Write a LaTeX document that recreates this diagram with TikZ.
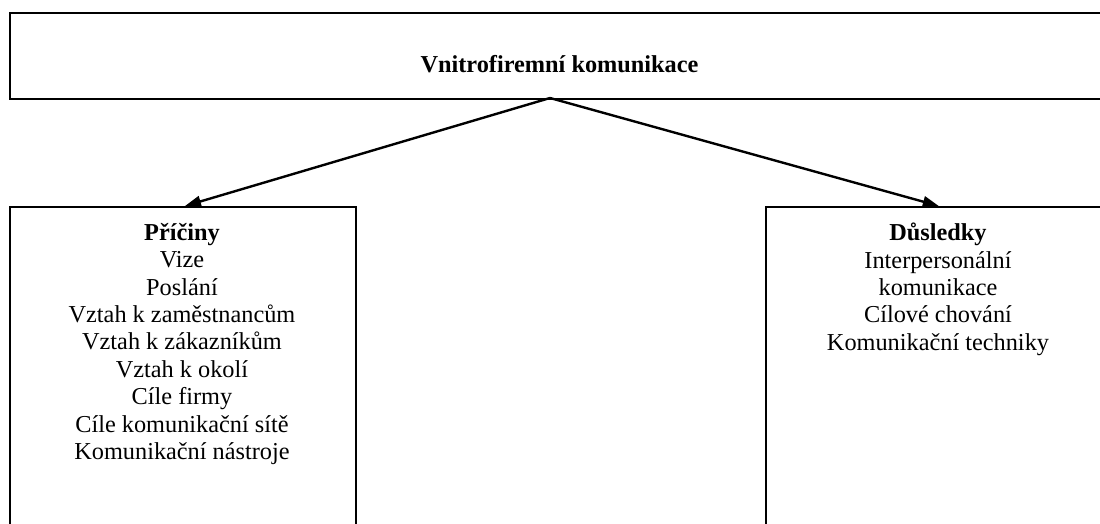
\documentclass[tikz,border=0pt]{standalone}
\usepackage{fontspec}
\setmainfont{Liberation Serif}
\usetikzlibrary{arrows.meta}
\begin{document}
\begin{tikzpicture}[x=1pt,y=-1pt,
  boxshape/.style={draw=black,line width=1.6pt,rectangle,inner sep=0pt},
  boxtext/.style={align=center,inner sep=0pt,font=\fontsize{24.3}{27.4}\selectfont},
  conn/.style={line width=2.4pt,-{Triangle[length=16pt,width=11pt]}}]
\useasboundingbox (0,0) rectangle (1100,524);
\clip (0,0) rectangle (1100,524);
\node[boxshape,minimum width=1101pt,minimum height=86pt,anchor=north west] (top) at (9,12) {};
\node[boxtext,anchor=base] (toptext) at (559.5,73) {\bfseries Vnitrofiremní komunikace};
\node[boxshape,minimum width=346pt,minimum height=360pt,anchor=north west] (causes) at (9,206) {};
\node[boxshape,minimum width=346pt,minimum height=360pt,anchor=north west] (effects) at (765,206) {};
\node[boxtext,anchor=north] (causestext) at (182,223) {\textbf{Příčiny}\\Vize\\Poslání\\Vztah k zaměstnancům\\Vztah k zákazníkům\\Vztah k okolí\\Cíle firmy\\Cíle komunikační sítě\\Komunikační nástroje};
\node[boxtext,anchor=north] (effectstext) at (938,223) {\textbf{Důsledky}\\Interpersonální\\komunikace\\Cílové chování\\Komunikační techniky};
\coordinate (src) at (550,98);
\draw[conn] (src) -- (causes.north -| 185,0);
\draw[conn] (src) -- (effects.north);
\end{tikzpicture}
\end{document}
